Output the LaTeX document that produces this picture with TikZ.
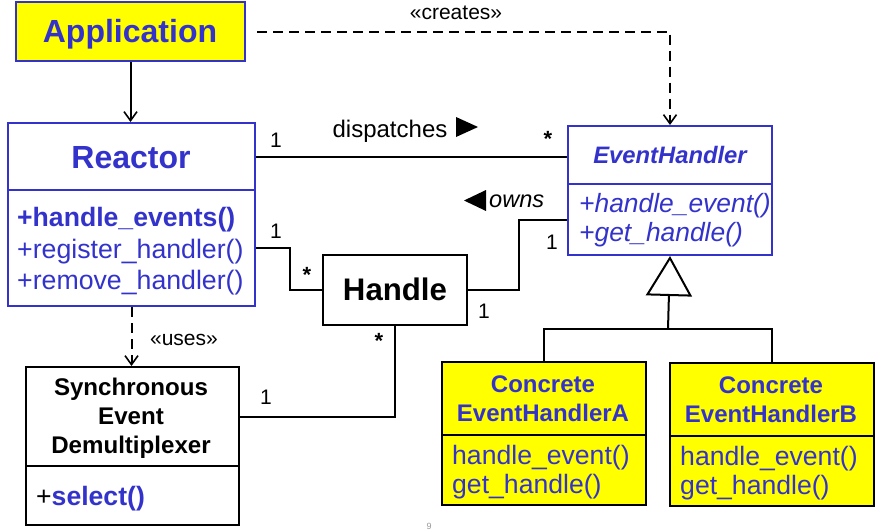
\documentclass[tikz,border=0pt]{standalone}
\usepackage{fontspec}
\setmainfont{Liberation Sans}
\usetikzlibrary{arrows.meta,calc}
\definecolor{umlblue}{HTML}{3333CC}
\definecolor{umlyellow}{HTML}{FFFF00}
\begin{document}
\begin{tikzpicture}[x=1pt,y=-1pt,
  bbox/.style={draw=umlblue, line width=2pt, inner sep=0pt, anchor=north west},
  kbox/.style={draw=black, line width=2pt, inner sep=0pt, anchor=north west},
  ybox/.style={fill=umlyellow},
  conn/.style={line width=2pt},
  dconn/.style={line width=2pt, dash pattern=on 10pt off 6pt},
  openarr/.style={-{Straight Barb[length=9pt,width=13pt,line width=1.6pt]}},
  lbl/.style={inner sep=0pt, font=\fontsize{21}{25}\selectfont},
  star/.style={inner sep=0pt, font=\bfseries\fontsize{22}{25}\selectfont},
  btxt/.style={inner sep=0pt, text=umlblue},
  ]
\clip (0,0) rectangle (877,530);
\fill[white] (0,0) rectangle (877,530);

% boxes
\node[bbox, ybox, minimum width=229pt, minimum height=59pt] (app) at (15,1) {};
\node[bbox, fill=white, minimum width=247pt, minimum height=67pt] (reactorT) at (7,122) {};
\node[bbox, minimum width=247pt, minimum height=116pt] (reactorM) at (7,189) {};
\node[bbox, minimum width=204pt, minimum height=58pt] (ehT) at (567,125) {};
\node[bbox, minimum width=204pt, minimum height=71pt] (ehM) at (567,183) {};
\node[kbox, minimum width=144pt, minimum height=70pt] (handle) at (322,254) {};
\node[kbox, minimum width=213pt, minimum height=99pt] (syncT) at (25,366) {};
\node[kbox, minimum width=213pt, minimum height=59pt] (syncM) at (25,465) {};
\node[kbox, ybox, minimum width=204pt, minimum height=73pt] (caT) at (441,361) {};
\node[kbox, ybox, minimum width=204pt, minimum height=70pt] (caM) at (441,434) {};
\node[kbox, ybox, minimum width=204pt, minimum height=73pt] (cbT) at (669,362) {};
\node[kbox, ybox, minimum width=204pt, minimum height=70pt] (cbM) at (669,435) {};

% texts
\node[btxt, anchor=base, font=\bfseries\fontsize{32}{36}\selectfont] (apptxt) at (130,42) {Application};
\node[btxt, anchor=base, font=\bfseries\fontsize{32}{36}\selectfont] (reactortxt) at (131,168) {Reactor};
\node[btxt, anchor=base west, font=\bfseries\fontsize{26.6}{30}\selectfont] (rm1) at (17,226) {+handle\_events()};
\node[btxt, anchor=base west, font=\fontsize{26.7}{30}\selectfont] (rm2) at (17,258) {+register\_handler()};
\node[btxt, anchor=base west, font=\fontsize{26.7}{30}\selectfont] (rm3) at (17,289) {+remove\_handler()};
\node[btxt, anchor=base, font=\bfseries\itshape\fontsize{23.8}{28}\selectfont] (ehtxt) at (670,163) {EventHandler};
\node[btxt, anchor=base west, font=\itshape\fontsize{26.4}{30}\selectfont] (em1) at (579,212) {+handle\_event()};
\node[btxt, anchor=base west, font=\itshape\fontsize{26.4}{30}\selectfont] (em2) at (579,241) {+get\_handle()};
\node[inner sep=0pt, anchor=base, font=\bfseries\fontsize{31.2}{36}\selectfont] (handletxt) at (395,300) {Handle};
\node[inner sep=0pt, anchor=base, font=\bfseries\fontsize{24.1}{28}\selectfont] (s1) at (131,395) {Synchronous};
\node[inner sep=0pt, anchor=base, font=\bfseries\fontsize{24.1}{28}\selectfont] (s2) at (131,424) {Event};
\node[inner sep=0pt, anchor=base, font=\bfseries\fontsize{24.1}{28}\selectfont] (s3) at (131,453) {Demultiplexer};
\node[inner sep=0pt, anchor=base west, font=\fontsize{26.6}{30}\selectfont] (sm) at (36,505) {+\textcolor{umlblue}{\bfseries select()}};
\node[btxt, anchor=base, font=\bfseries\fontsize{24}{26}\selectfont] (ca1) at (543,392) {Concrete};
\node[btxt, anchor=base, font=\bfseries\fontsize{24}{26}\selectfont] (ca2) at (543,421) {EventHandlerA};
\node[btxt, anchor=base west, font=\fontsize{26.6}{30}\selectfont] (cam1) at (452,464) {handle\_event()};
\node[btxt, anchor=base west, font=\fontsize{26.6}{30}\selectfont] (cam2) at (452,493) {get\_handle()};
\node[btxt, anchor=base, font=\bfseries\fontsize{24}{26}\selectfont] (cb1) at (771,393) {Concrete};
\node[btxt, anchor=base, font=\bfseries\fontsize{24}{26}\selectfont] (cb2) at (771,422) {EventHandlerB};
\node[btxt, anchor=base west, font=\fontsize{26.6}{30}\selectfont] (cbm1) at (680,465) {handle\_event()};
\node[btxt, anchor=base west, font=\fontsize{26.6}{30}\selectfont] (cbm2) at (680,494) {get\_handle()};

% connectors
\draw[conn, openarr] (app.south) -- (app.south |- reactorT.north);
\draw[dconn, openarr] ([xshift=11pt]app.east) -| (ehT.north);
\draw[conn] (reactorT.east) -- (reactorT.east -| ehT.west);
\draw[conn] (reactorM.east) -- ++(34,0) |- (handle.west);
\draw[conn] (handle.east) -- ++(51,0) |- (ehM.west);
\draw[conn] (handle.south) |- (syncT.east);
\draw[dconn, openarr] (reactorM.south) -- (reactorM.south |- syncT.north);
\coordinate (inh) at (668,329);
\draw[conn] (caT.north) |- (inh) -| (cbT.north);
\draw[conn, -{Triangle[open,length=40pt,width=46pt,line width=2pt]}] (inh) -- (ehM.south);

% labels
\node[lbl, anchor=base] (creates) at (456,19) {«creates»};
\node[lbl, anchor=base] (uses) at (184,345) {«uses»};
\node[lbl, anchor=base, font=\fontsize{24}{28}\selectfont] (disp) at (390,137) {dispatches};
\fill (456,117) -- (478,127) -- (456,137) -- cycle;
\node[lbl, anchor=base west, font=\itshape\fontsize{23.6}{28}\selectfont] (owns) at (489,207) {owns};
\fill (486,190) -- (464,200.5) -- (486,211) -- cycle;
\node[lbl, anchor=base] (m1) at (276,147) {1};
\node[star] (m2) at (548,139) {*};
\node[lbl, anchor=base] (m3) at (276,238) {1};
\node[star] (m4) at (307,275) {*};
\node[lbl, anchor=base] (m5) at (484,318) {1};
\node[lbl, anchor=base] (m6) at (552,249) {1};
\node[star] (m7) at (379,341) {*};
\node[lbl, anchor=base] (m8) at (266,404) {1};
\node[inner sep=0pt, anchor=base, text=gray!80, font=\fontsize{9}{10}\selectfont] (pg) at (429,529.5) {9};
\end{tikzpicture}
\end{document}
